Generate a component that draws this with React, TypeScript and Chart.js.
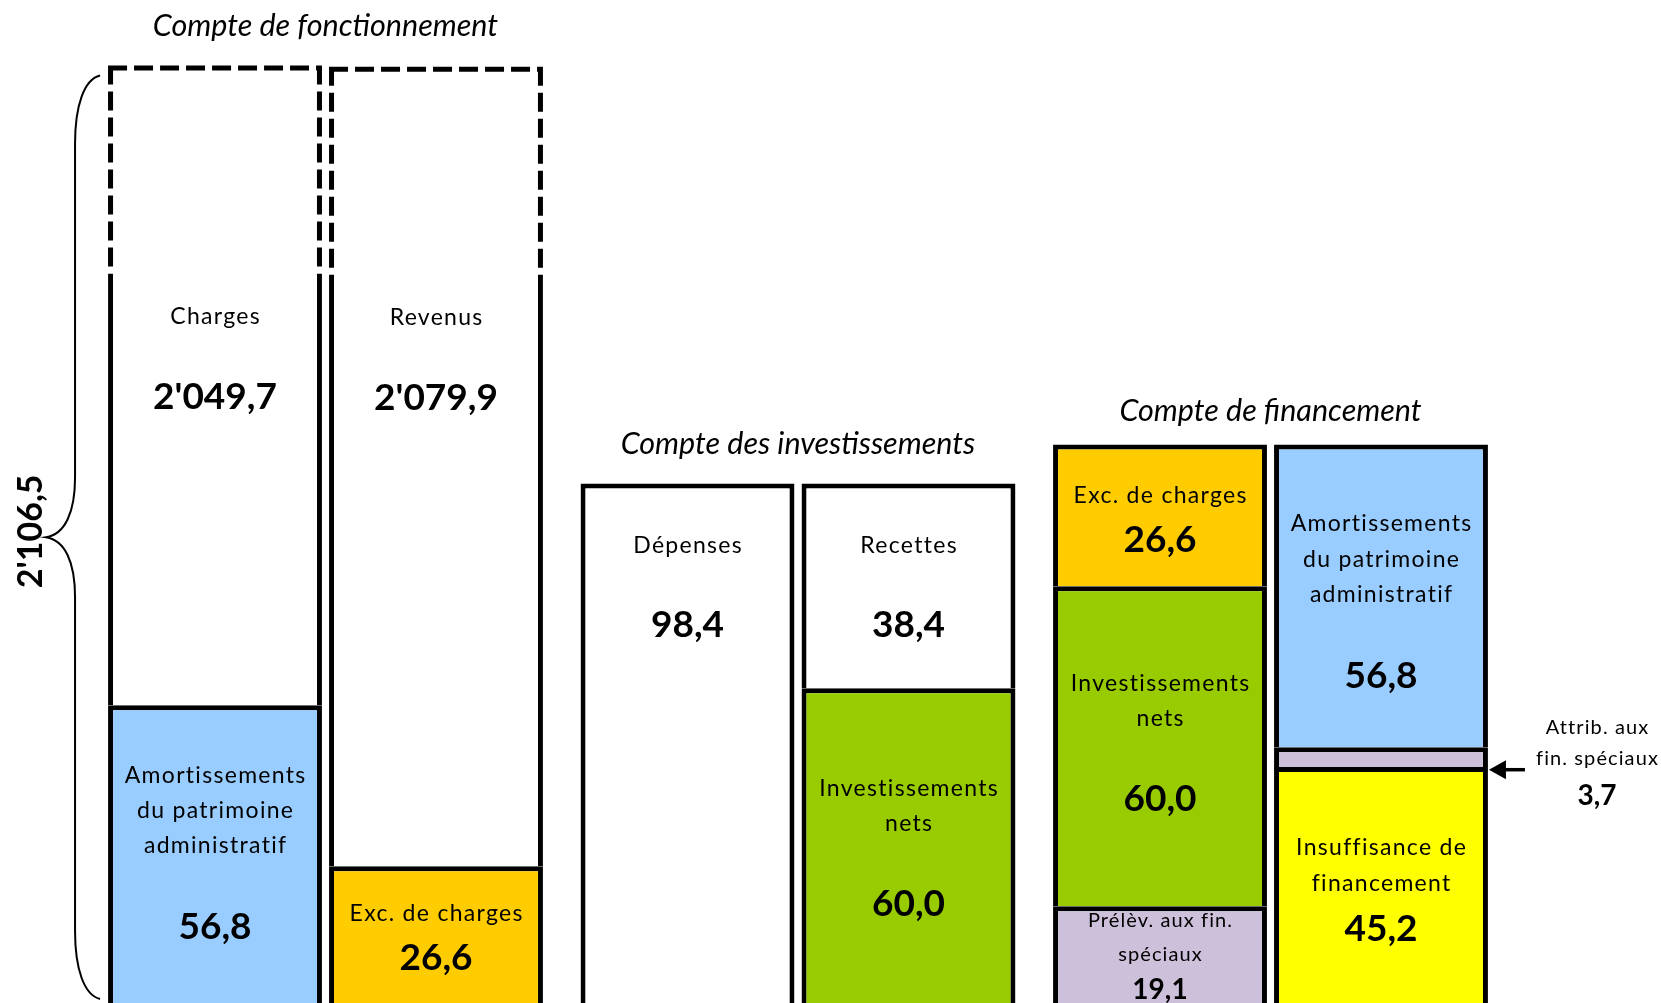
import React, { useEffect, useRef } from 'react';
import { Chart, registerables } from 'chart.js';

Chart.register(...registerables);

// ---------- data ----------
const categories = ['Compte de fonctionnement', 'Compte des investissements', 'Compte de financement'];

// segments, listed bottom → top inside each stack
const segCategory = [0, 0, 0, 0, 0, 0, 1, 1, 1, 2, 2, 2, 2, 2, 2];
const segStack = ['L', 'L', 'L', 'R', 'R', 'R', 'L', 'R', 'R', 'L', 'L', 'L', 'R', 'R', 'R'];
// the two large operating blocks are drawn truncated (broken bar): visible part + dashed break part
const segValues = [56.8, 81, 39, 26.6, 111, 39, 98.4, 60.0, 38.4, 19.1, 60.0, 26.6, 45.2, 3.7, 56.8];
const segNames: string[][] = [
  ['Amortissements', 'du patrimoine', 'administratif'],
  ['Charges'],
  [],
  ['Exc. de charges'],
  ['Revenus'],
  [],
  ['Dépenses'],
  ['Investissements', 'nets'],
  ['Recettes'],
  ['Prélèv. aux fin.', 'spéciaux'],
  ['Investissements', 'nets'],
  ['Exc. de charges'],
  ['Insuffisance de', 'financement'],
  [],
  ['Amortissements', 'du patrimoine', 'administratif'],
];
const segValueLabels = ['56,8', "2'049,7", '', '26,6', "2'079,9", '', '98,4', '60,0', '38,4', '19,1', '60,0', '26,6', '45,2', '', '56,8'];
const totalLabel = "2'106,5";
const attribLines = ['Attrib. aux', 'fin. spéciaux'];
const attribValue = '3,7';

// ---------- styles ----------
const segColors = ['#99CCFF', '#FFFFFF', '#FFFFFF', '#FFCC00', '#FFFFFF', '#FFFFFF', '#FFFFFF', '#99CC00', '#FFFFFF',
  '#CCC0DA', '#99CC00', '#FFCC00', '#FFFF00', '#CCC0DA', '#99CCFF'];
const segKind = ['solid', 'open', 'break', 'solid', 'open', 'break', 'solid', 'solid', 'solid', 'solid', 'solid', 'solid', 'solid', 'solid', 'solid'];
// text line positions (px below segment top)
const segLineOffsets: number[][] = [
  [70, 105, 140], [43], [], [47], [43], [], [62.5], [100, 135], [62.5], [14, 48.5], [97.6, 132.6], [51.4], [81, 117], [], [79.4, 115.4, 150.4],
];
const segValueOffsets = [222, 124, 0, 92, 124, 0, 141.5, 216, 141.5, 84, 212.6, 95.4, 162, 0, 231.4];
const segSmall = [false, false, false, false, false, false, false, false, false, true, false, false, false, false, false];
const titleOffsets = [-39, -39.5, -33];

const FONT = 'Lato, "Noto Sans", sans-serif';
const BORDER = 5;

function drawText(ctx: CanvasRenderingContext2D, s: string, x: number, y: number, font: string, spacing = 0) {
  ctx.font = font;
  (ctx as any).letterSpacing = spacing + 'px';
  ctx.fillText(s, x + spacing / 2, y);
}

const overlayPlugin = {
  id: 'overlay',
  afterDatasetsDraw(chart: any) {
    const ctx: CanvasRenderingContext2D = chart.ctx;
    const els = segValues.map((_, i) => chart.getDatasetMeta(i).data[segCategory[i]].getProps(['x', 'y', 'base', 'width'], true));
    ctx.save();
    ctx.fillStyle = '#000';
    ctx.strokeStyle = '#000';
    ctx.textAlign = 'center';
    ctx.textBaseline = 'middle';

    // dashed break parts
    els.forEach((e: any, i: number) => {
      if (segKind[i] !== 'break') return;
      const l = e.x - e.width / 2, r = e.x + e.width / 2;
      ctx.lineWidth = BORDER;
      ctx.setLineDash([19, 7]);
      ctx.beginPath();
      ctx.moveTo(l, e.y + BORDER / 2); ctx.lineTo(r, e.y + BORDER / 2);
      ctx.moveTo(l + BORDER / 2, e.y); ctx.lineTo(l + BORDER / 2, e.base);
      ctx.moveTo(r - BORDER / 2, e.y); ctx.lineTo(r - BORDER / 2, e.base);
      ctx.stroke();
      ctx.setLineDash([]);
    });

    // segment labels
    els.forEach((e: any, i: number) => {
      const small = segSmall[i];
      segNames[i].forEach((line, k) => {
        drawText(ctx, line, e.x, e.y + segLineOffsets[i][k], (small ? '20px ' : '23px ') + FONT, small ? 1.1 : 1.3);
      });
      if (segValueLabels[i]) {
        drawText(ctx, segValueLabels[i], e.x, e.y + segValueOffsets[i], 'bold ' + (small ? '28px ' : '37px ') + FONT);
      }
    });

    // group titles
    categories.forEach((t, c) => {
      const idx = segCategory.map((cc, i) => (cc === c ? i : -1)).filter((i) => i >= 0);
      const top = Math.min(...idx.map((i) => els[i].y));
      const xs = idx.map((i) => els[i].x);
      const cx = (Math.min(...xs) + Math.max(...xs)) / 2;
      drawText(ctx, t, cx, top + titleOffsets[c], 'italic 30.5px ' + FONT);
    });

    // brace for the operating total
    const b0 = els[0];
    const left = b0.x - b0.width / 2;
    const top = els[2].y + 10;
    const bottom = chart.chartArea.bottom - 4;
    const m = (top + bottom) / 2;
    const xs = left - 8, xv = left - 33, xt = left - 62;
    ctx.lineWidth = 2;
    ctx.beginPath();
    ctx.moveTo(xs, top);
    ctx.bezierCurveTo(xs - 16, top + 4, xv, top + 30, xv, top + 68);
    ctx.lineTo(xv, m - 60);
    ctx.bezierCurveTo(xv, m - 25, xv - 10, m - 3, xt, m);
    ctx.bezierCurveTo(xv - 10, m + 3, xv, m + 25, xv, m + 60);
    ctx.lineTo(xv, bottom - 68);
    ctx.bezierCurveTo(xv, bottom - 30, xs - 16, bottom - 4, xs, bottom);
    ctx.stroke();
    ctx.save();
    ctx.translate(left - 77, m - 6);
    ctx.rotate(-Math.PI / 2);
    drawText(ctx, totalLabel, 0, 0, 'bold 34px ' + FONT);
    ctx.restore();

    // arrow + annotation for the attribution segment
    const a = els[13];
    const ar = a.x + a.width / 2;
    const ay = (a.y + BORDER + a.base) / 2 + 10;
    ctx.lineWidth = 3.5;
    ctx.beginPath();
    ctx.moveTo(ar + 16, ay); ctx.lineTo(ar + 37, ay);
    ctx.stroke();
    ctx.beginPath();
    ctx.moveTo(ar + 1, ay); ctx.lineTo(ar + 18, ay - 9.5); ctx.lineTo(ar + 18, ay + 9.5); ctx.closePath();
    ctx.fill();
    drawText(ctx, attribLines[0], ar + 109, ay - 42, '20px ' + FONT, 1.1);
    drawText(ctx, attribLines[1], ar + 109, ay - 11, '20px ' + FONT, 1.1);
    drawText(ctx, attribValue, ar + 109, ay + 26, 'bold 28px ' + FONT);
    ctx.restore();
  },
};

export default function App() {
  const ref = useRef<HTMLCanvasElement>(null);
  useEffect(() => {
    document.body.style.margin = '0';
    document.body.style.overflow = 'hidden';
    const datasets = segValues.map((v, i) => ({
      label: segNames[i].join(' ') || 'break',
      data: categories.map((_, c) => (c === segCategory[i] ? v : null)),
      stack: segStack[i],
      backgroundColor: segColors[i],
      borderColor: '#000000',
      borderWidth: segKind[i] === 'break' ? 0 : segKind[i] === 'open' ? { left: BORDER, right: BORDER, top: 0, bottom: 0 } : BORDER,
      borderSkipped: 'start' as const,
      clip: 0,
    }));
    const chart = new Chart(ref.current!, {
      type: 'bar',
      data: { labels: categories, datasets: datasets as any },
      options: {
        responsive: false,
        animation: false,
        devicePixelRatio: 1,
        layout: { padding: { left: 89.25, right: 154.25, top: 0, bottom: 0 } },
        plugins: { legend: { display: false }, tooltip: { enabled: false }, title: { display: false } },
        datasets: { bar: { categoryPercentage: 0.9354, barPercentage: 0.968 } },
        scales: {
          x: { type: 'category', stacked: true, display: false, offset: true },
          y: { type: 'linear', stacked: true, display: false, min: 0.94, max: 189.1 },
        },
      },
      plugins: [overlayPlugin],
    });
    return () => chart.destroy();
  }, []);
  return <canvas ref={ref} width={1661} height={1003} style={{ display: 'block' }} />;
}
